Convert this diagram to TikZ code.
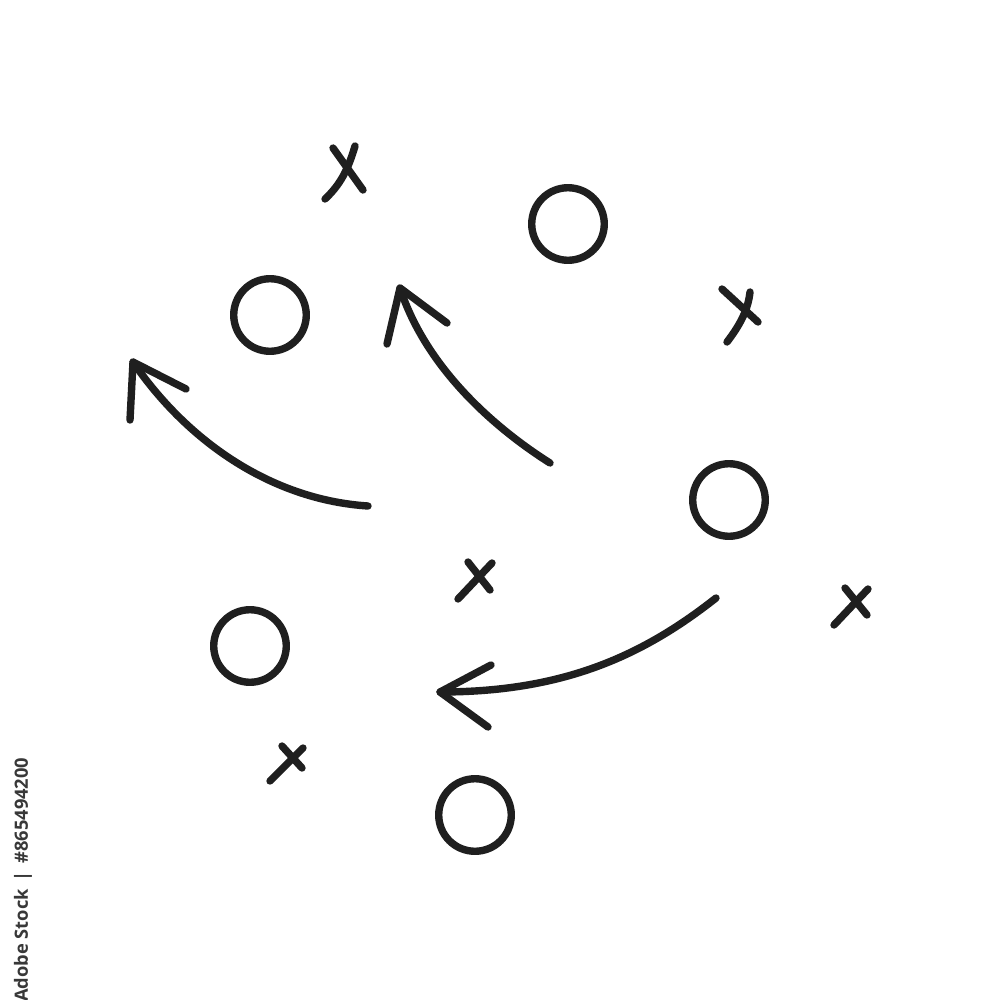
\documentclass[tikz,border=0pt]{standalone}
\usepackage{fontspec}
\newfontfamily\wmfont{Open Sans}
\begin{document}
\begin{tikzpicture}[x=0.01cm,y=-0.01cm,
  ink/.style={line width=2.1pt, line cap=round, line join=round, draw=black!88},
  player/.style={circle, ink, inner sep=0pt, minimum size=0.725cm},
  xmark/.style={ink},
  route/.style={ink}]
\useasboundingbox (0,0) rectangle (1000,1000);
\clip (0,0) rectangle (1000,1000);
\fill[white] (0,0) rectangle (1000,1000);
% circles
\node[player] (o1) at (568,224) {};
\node[player] (o2) at (270,315) {};
\node[player] (o3) at (729,500) {};
\node[player] (o4) at (250,646) {};
\node[player] (o5) at (475,815) {};
% crosses
\draw[xmark] (333,148) -- (363,190);
\draw[xmark] (355,146) .. controls (348,170) and (340,185) .. (325,199);
\draw[xmark] (722,289) -- (758,322);
\draw[xmark] (750,292) .. controls (748,310) and (740,325) .. (727,342);
\draw[xmark] (468,562) -- (490,590);
\draw[xmark] (492,563) -- (458,599);
\draw[xmark] (845,588) -- (867,615);
\draw[xmark] (868,589) -- (834,625);
\draw[xmark] (282,746) -- (302,768);
\draw[xmark] (303,748) -- (270,781);
% arrows
\coordinate (a1s) at (368,506);
\coordinate (a1t) at (133,362);
\coordinate (a1b1) at (130,420);
\coordinate (a1b2) at (186,389);
\draw[route] (a1s) .. controls (275,500) and (190,445) .. (a1t);
\draw[route] (a1b1) -- (a1t) -- (a1b2);
\coordinate (a2s) at (550,463);
\coordinate (a2t) at (400,288);
\coordinate (a2b1) at (387,344);
\coordinate (a2b2) at (447,323);
\draw[route] (a2s) .. controls (490,425) and (425,365) .. (a2t);
\draw[route] (a2b1) -- (a2t) -- (a2b2);
\coordinate (a3s) at (716,598);
\coordinate (a3t) at (440,692);
\coordinate (a3b1) at (491,665);
\coordinate (a3b2) at (488,727);
\draw[route] (a3s) .. controls (640,658) and (560,692) .. (a3t);
\draw[route] (a3b1) -- (a3t) -- (a3b2);
% watermark id
\node[rotate=90, anchor=east, inner sep=0pt, text=black!78, font=\wmfont\bfseries\fontsize{5.2pt}{6pt}\selectfont] (wm) at (23,757) {Adobe Stock \,|\, \#865494200};
\end{tikzpicture}
\end{document}
